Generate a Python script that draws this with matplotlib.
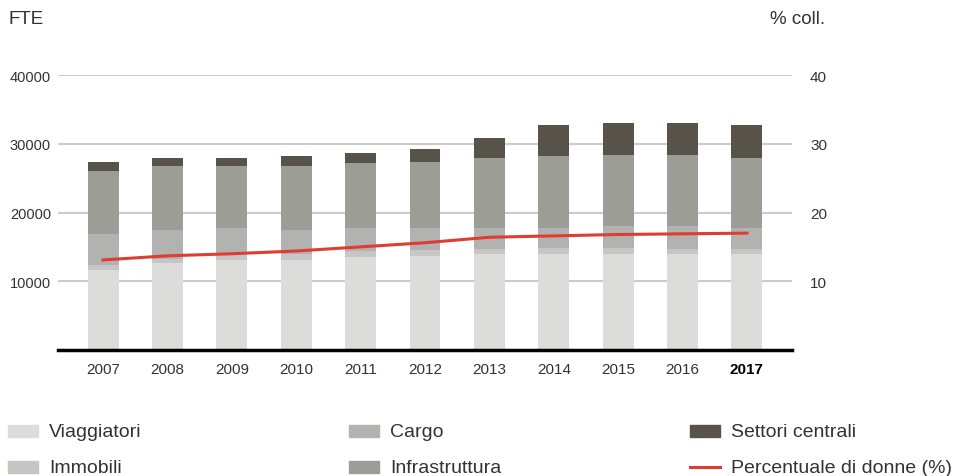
import matplotlib
matplotlib.use("Agg")
import numpy as np
import matplotlib.pyplot as plt
from matplotlib.patches import Rectangle
from matplotlib.lines import Line2D

plt.rcParams["font.family"] = ["Liberation Sans", "DejaVu Sans"]

# data (FTE, thousands)
years = ["2007", "2008", "2009", "2010", "2011", "2012", "2013", "2014", "2015", "2016", "2017"]
viaggiatori = [11.7, 12.6, 13.1, 13.1, 13.6, 13.7, 13.9, 14.0, 14.0, 14.0, 14.0]
immobili = [0.7, 0.7, 0.8, 0.8, 0.8, 0.9, 0.8, 0.9, 0.9, 0.7, 0.7]
cargo = [4.5, 4.2, 3.8, 3.6, 3.4, 3.2, 3.1, 2.9, 3.1, 3.3, 3.1]
infrastruttura = [9.1, 9.2, 9.0, 9.2, 9.4, 9.6, 10.1, 10.4, 10.3, 10.3, 10.2]
settori = [1.4, 1.2, 1.3, 1.5, 1.4, 1.8, 3.0, 4.5, 4.7, 4.7, 4.7]
donne_pct = [13.1, 13.7, 14.0, 14.4, 15.0, 15.6, 16.4, 16.6, 16.8, 16.9, 17.0]
left_ticks = [10000, 20000, 30000, 40000]
left_labels = ["10000", "20000", "30000", "40000"]
right_ticks = [10, 20, 30, 40]

series = [
    ("Viaggiatori", viaggiatori, "#dcdcdb"),
    ("Immobili", immobili, "#c6c6c4"),
    ("Cargo", cargo, "#b2b2b0"),
    ("Infrastruttura", infrastruttura, "#9d9d98"),
    ("Settori centrali", settori, "#57534b"),
]
red = "#e03c31"
text_col = "#333333"

fig = plt.figure(figsize=(9.55, 4.77), dpi=100)
W, H = 955, 477
ax = fig.add_axes([58 / W, 1 - 351 / H, (792 - 58) / W, (351 - 76) / H])

x = np.arange(len(years))
bottom = np.zeros(len(years))
for name, vals, col in series:
    vals = np.array(vals) * 1000
    ax.bar(x, vals, 0.48, bottom=bottom, color=col, zorder=2)
    bottom += vals

ax.set_ylim(0, 40000)
ax.set_xlim(-0.7, len(years) - 0.3)
ax.set_yticks(left_ticks)
ax.set_yticklabels(left_labels)
ax.yaxis.grid(True, color="#cbcbcb", linewidth=1.5, zorder=0)
ax.set_axisbelow(True)
for s in ["top", "left", "right"]:
    ax.spines[s].set_visible(False)
ax.spines["bottom"].set_linewidth(2.5)
ax.spines["bottom"].set_color("black")
ax.spines["bottom"].set_zorder(5)
ax.tick_params(axis="y", length=0, pad=5, labelsize=10.5, labelcolor=text_col)
ax.tick_params(axis="x", length=0, pad=9, labelsize=11, labelcolor=text_col)
ax.set_xticks(x)
ax.set_xticklabels(years)
ax.get_xticklabels()[-1].set_fontweight("bold")
ax.get_xticklabels()[-1].set_color("black")

ax2 = ax.twinx()
ax2.set_ylim(0, 40)
ax2.set_yticks(right_ticks)
ax2.tick_params(axis="y", length=0, pad=13, labelsize=11, labelcolor=text_col)
for s in ["top", "left", "right", "bottom"]:
    ax2.spines[s].set_visible(False)
ax2.plot(x, donne_pct, color=red, linewidth=2.2, zorder=3)

fig.text(8 / W, 1 - 20 / H, "FTE", fontsize=13.5, color=text_col, va="center", ha="left")
fig.text(825 / W, 1 - 20 / H, "% coll.", fontsize=13.5, color=text_col, va="center", ha="right")

# legend drawn by hand to keep the three fixed columns
leg_items = [
    (8, 432, "Viaggiatori", "#dcdcdb", "patch"),
    (8, 468, "Immobili", "#c6c6c4", "patch"),
    (349, 432, "Cargo", "#b2b2b0", "patch"),
    (349, 468, "Infrastruttura", "#9d9d98", "patch"),
    (690, 432, "Settori centrali", "#57534b", "patch"),
    (690, 468, "Percentuale di donne (%)", red, "line"),
]
for lx, ly, label, col, kind in leg_items:
    if kind == "patch":
        fig.add_artist(Rectangle((lx / W, 1 - (ly + 6) / H), 30 / W, 12 / H,
                                 color=col, transform=fig.transFigure))
    else:
        fig.add_artist(Line2D([lx / W, (lx + 30) / W], [1 - ly / H, 1 - ly / H],
                              color=red, linewidth=2.2, transform=fig.transFigure))
    fig.text((lx + 41) / W, 1 - (ly + 1) / H, label, fontsize=14, color=text_col,
             va="center", ha="left")

fig.savefig("out.png", dpi=100)
